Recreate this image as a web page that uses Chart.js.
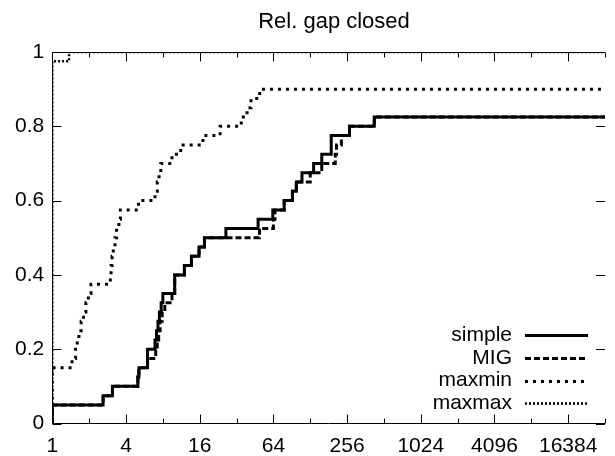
<!DOCTYPE html>
<html><head><meta charset="utf-8">
<script src="https://cdn.jsdelivr.net/npm/chart.js@4.4.0/dist/chart.umd.min.js"></script>
<style>html,body{margin:0;padding:0;background:#fff;}#wrap{width:615px;height:456px;}</style>
</head><body><div id="wrap"><canvas id="c" width="615" height="456"></canvas></div>
<script>
const chartTitle = 'Rel. gap closed';
const seriesNames = ['simple', 'MIG', 'maxmin', 'maxmax'];
const xTickValues = [1,2,4,8,16,32,64,128,256,512,1024,2048,4096,8192,16384,32768];
const yTickValues = [0,0.2,0.4,0.6,0.8,1];

const simpleX = [1,1,2.6,3.1,5.0,5.1,6.0,6.9,7.1,7.3,7.5,7.75,8.0,10.0,10.0,12.0,13.7,15.8,17.5,26.2,48,63.3,78.4,91.6,98.5,109.6,136.5,159,190,190,268,427,32768];
const simpleY = [0,0.05,0.075,0.1,0.125,0.15,0.2,0.225,0.25,0.275,0.3,0.325,0.35,0.375,0.4,0.425,0.45,0.475,0.5,0.525,0.55,0.575,0.6,0.625,0.65,0.675,0.7,0.725,0.75,0.775,0.8,0.825,0.825];

const migX = [1,1,2.6,3.1,5.0,5.1,6.0,7.0,7.2,7.4,7.6,7.9,8.3,9.5,10.0,10.0,12.0,13.7,15.8,17.5,49.3,64,66,78.4,91.6,98.5,128,159,205,210,230,268,427,32768];
const migY = [0,0.05,0.075,0.1,0.125,0.15,0.175,0.2,0.225,0.25,0.275,0.3,0.325,0.35,0.375,0.4,0.425,0.45,0.475,0.5,0.525,0.55,0.575,0.6,0.625,0.65,0.675,0.7,0.725,0.75,0.775,0.8,0.825,0.825];

const maxminX = [1,1,1.45,1.55,1.6,1.65,1.72,1.8,1.88,1.97,2.07,2.98,3.02,3.08,3.15,3.25,3.35,3.5,3.6,5.06,6.9,7.2,7.45,7.7,9.5,11.2,17,23.5,35,39,42,49.5,32768];
const maxminY = [0,0.15,0.175,0.2,0.225,0.25,0.275,0.3,0.325,0.35,0.375,0.4,0.425,0.45,0.475,0.5,0.525,0.55,0.575,0.6,0.625,0.65,0.675,0.7,0.725,0.75,0.775,0.8,0.825,0.85,0.875,0.9,0.9];

const maxmaxX = [1,1,1.37,32768];
const maxmaxY = [0,0.975,1,1];

const FONT = {family: "'Liberation Sans', Arial, sans-serif", size: 21};

function pts(xs, ys){ return xs.map((x,i)=>({x:x, y:ys[i]})); }

const styles = [
  {borderDash: [], borderWidth: 3},
  {borderDash: [6,3], borderWidth: 3},
  {borderDash: [3,5], borderWidth: 3},
  {borderDash: [2,2], borderWidth: 2.5}
];
const seriesData = [pts(simpleX,simpleY), pts(migX,migY), pts(maxminX,maxminY), pts(maxmaxX,maxmaxY)];

const datasets = seriesNames.map((n,i)=>({
  label: n,
  data: seriesData[i],
  stepped: 'before',
  borderColor: '#000',
  borderWidth: styles[i].borderWidth,
  borderDash: styles[i].borderDash,
  borderCapStyle: 'butt',
  borderJoinStyle: 'miter',
  pointRadius: 0,
  fill: false,
  tension: 0
}));

const framePlugin = {
  id: 'frame',
  beforeDatasetsDraw(chart){
    const {ctx, chartArea: a, scales: {x, y}} = chart;
    ctx.save();
    ctx.strokeStyle = '#000';
    ctx.lineWidth = 1;
    const L = Math.round(a.left)+0.5, T = Math.round(a.top)+0.5, B = Math.round(a.bottom)-0.5;
    ctx.beginPath();
    ctx.moveTo(L, T); ctx.lineTo(a.right, T);
    ctx.moveTo(L, T); ctx.lineTo(L, B);
    ctx.moveTo(L, B); ctx.lineTo(a.right, B);
    xTickValues.forEach(v=>{
      const px = Math.round(x.getPixelForValue(v))+0.5;
      const e = Math.round(Math.log2(v));
      const len = (e % 2 === 0) ? 9 : 5;
      ctx.moveTo(px, B); ctx.lineTo(px, B-len);
      ctx.moveTo(px, T); ctx.lineTo(px, T+len);
    });
    yTickValues.forEach(v=>{
      const py = Math.round(y.getPixelForValue(v))+0.5;
      ctx.moveTo(L, py); ctx.lineTo(L+9, py);
      ctx.moveTo(a.right, py); ctx.lineTo(a.right-9, py);
    });
    ctx.stroke();
    ctx.restore();
  }
};

const titleLegendPlugin = {
  id: 'titleLegend',
  afterDraw(chart){
    const ctx = chart.ctx;
    ctx.save();
    ctx.fillStyle = '#000';
    ctx.font = '22px ' + FONT.family;
    ctx.textAlign = 'center';
    ctx.textBaseline = 'alphabetic';
    ctx.fillText(chartTitle, 334, 28);
    ctx.font = FONT.size + 'px ' + FONT.family;
    ctx.textAlign = 'right';
    ctx.textBaseline = 'middle';
    chart.data.datasets.forEach((ds,i)=>{
      const yy = 335 + i*22.8;
      ctx.fillText(ds.label, 512, yy);
      ctx.beginPath();
      ctx.strokeStyle = '#000';
      ctx.lineWidth = ds.borderWidth;
      ctx.setLineDash(ds.borderDash);
      ctx.lineCap = 'butt';
      ctx.moveTo(525, Math.round(yy)+0.5);
      ctx.lineTo(588, Math.round(yy)+0.5);
      ctx.stroke();
    });
    ctx.restore();
  }
};

new Chart(document.getElementById('c'), {
  type: 'line',
  data: {datasets: datasets},
  options: {
    responsive: false,
    animation: false,
    devicePixelRatio: 1,
    layout: {padding: {top: 52, left: 0, right: 0, bottom: 0}},
    plugins: {
      legend: {display: false},
      tooltip: {enabled: false},
      title: {display: false}
    },
    scales: {
      x: {
        type: 'logarithmic', min: 1, max: 32768,
        grid: {display: false, drawTicks: false},
        border: {display: false},
        ticks: {autoSkip: false, maxRotation: 0, minRotation: 0, padding: 10, color: '#000', font: FONT,
          callback: function(v){ const e = Math.round(Math.log2(v)); return (e % 2 === 0 && e <= 14) ? String(v) : ''; }},
        afterBuildTicks: s => { s.ticks = xTickValues.map(v=>({value: v})); },
        afterFit: s => { s.height = 32.5; }
      },
      y: {
        type: 'linear', min: 0, max: 1,
        grid: {display: false, drawTicks: false},
        border: {display: false},
        ticks: {padding: 8, color: '#000', font: FONT, callback: v => String(v)},
        afterBuildTicks: s => { s.ticks = yTickValues.map(v=>({value: v})); },
        afterFit: s => { s.width = 52.3; }
      }
    }
  },
  plugins: [framePlugin, titleLegendPlugin]
});
</script>
</body></html>
